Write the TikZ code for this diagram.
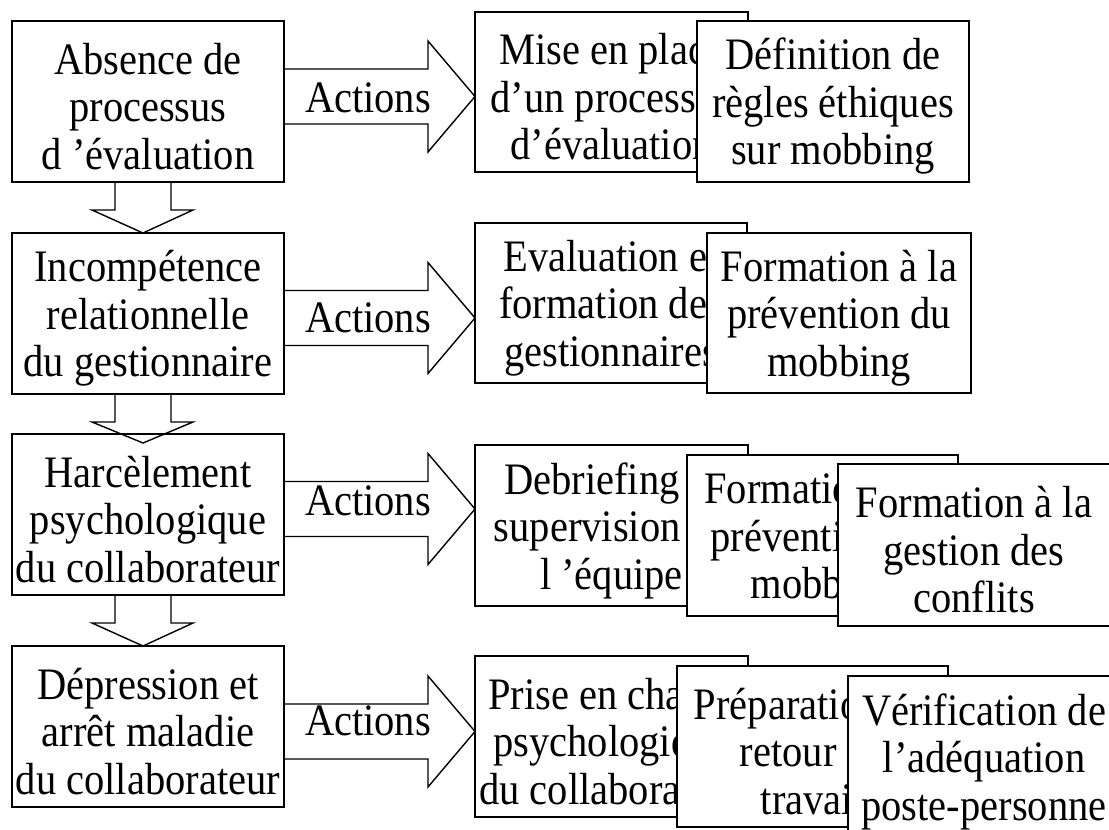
\documentclass[tikz,border=0pt]{standalone}
\usepackage{fontspec}
\setmainfont[FakeStretch=0.9]{Liberation Serif}
\usetikzlibrary{calc}
% a framed card: name, left x, top y, width, height, text
\newcommand\card[6]{%
  \node[box, minimum width=#4, minimum height=#5] (#1) at (#2,#3) {};
  \node[txt] (#1-t) at ($(#1.center)+(0,5)$) {#6};}
\begin{document}
\begin{tikzpicture}[x=1pt,y=-1pt,
  every node/.style={inner sep=0pt, outer sep=0pt},
  box/.style={draw=black, fill=white, line width=1.4pt, anchor=north west},
  txt/.style={align=center, font=\fontsize{45}{47.5}\selectfont},
  blockarrow/.style={draw=black, line width=1.4pt, line join=miter},
  lbl/.style={anchor=base, font=\fontsize{45}{47.5}\selectfont}]
\useasboundingbox[fill=white] (0,0) rectangle (1109,830);

% chain of causes
\card{l1}{12}{21}{272}{161}{Absence de\\processus\\d ’évaluation}
\card{l2}{12}{233}{272}{161}{Incompétence\\relationnelle\\du gestionnaire}
\card{l3}{12}{434}{272}{161}{Harcèlement\\psychologique\\du collaborateur}
\card{l4}{12}{646}{272}{161}{Dépression et\\arrêt maladie\\du collaborateur}

% actions, stacked cards per row
\card{a1}{475}{12}{273}{160}{Mise en place\\d’un processus\\d’évaluation}
\card{b1}{697}{21}{272}{161}{Définition de\\règles éthiques\\sur mobbing}

\card{a2}{475}{223}{272}{160}{Evaluation et\\formation des\\gestionnaires}
\card{b2}{707}{233}{264}{160}{Formation à la\\prévention du\\mobbing}

\card{a3}{475}{445}{273}{161}{Debriefing et\\supervision de\\l ’équipe}
\card{b3}{687}{455}{271}{161}{Formation à la\\prévention du\\mobbing}
\card{c3}{838}{464}{272}{162}{Formation à la\\gestion des\\conflits}

\card{a4}{475}{656}{273}{161}{Prise en charge\\psychologique\\du collaborateur}
\card{b4}{677}{666}{271}{161}{Préparation du\\retour au\\travail}
\card{c4}{848}{676}{272}{161}{Vérification de\\l’adéquation\\poste-personne}

% downward block arrows between causes
\draw[blockarrow] ($(l1.south)+(-33,0)$) -- ++(0,28) -- ++(-23,0)
  -- ($(l2.north)+(-5,0)$) -- ($(l1.south)+(45,28)$) -- ++(-22,0) -- ++(0,-28);
\draw[blockarrow] ($(l2.south)+(-33,0)$) -- ++(0,28) -- ++(-23,0)
  -- ($(l3.north)+(-5,9)$) -- ($(l2.south)+(45,28)$) -- ++(-22,0) -- ++(0,-28);
\draw[blockarrow] ($(l3.south)+(-33,0)$) -- ++(0,28) -- ++(-23,0)
  -- ($(l4.north)+(-5,0)$) -- ($(l3.south)+(45,28)$) -- ++(-22,0) -- ++(0,-28);

% "Actions" block arrows: cause -> first action card
\foreach \l/\a/\c/\b in {l1/a1/96.5/112, l2/a2/318/332, l3/a3/509/515, l4/a4/731.5/735}{
  \coordinate (mid) at (0,\c);
  \draw[blockarrow] ($(\l.east |- mid)+(0,-27.5)$) -- ($(\a.west |- mid)+(-47,-27.5)$)
    -- ++(0,-28) -- (\a.west |- mid) -- ($(\a.west |- mid)+(-47,55.5)$)
    -- ++(0,-28) -- ($(\l.east |- mid)+(0,27.5)$);
  \node[lbl] at (368,\b) {Actions};
}
\end{tikzpicture}
\end{document}
